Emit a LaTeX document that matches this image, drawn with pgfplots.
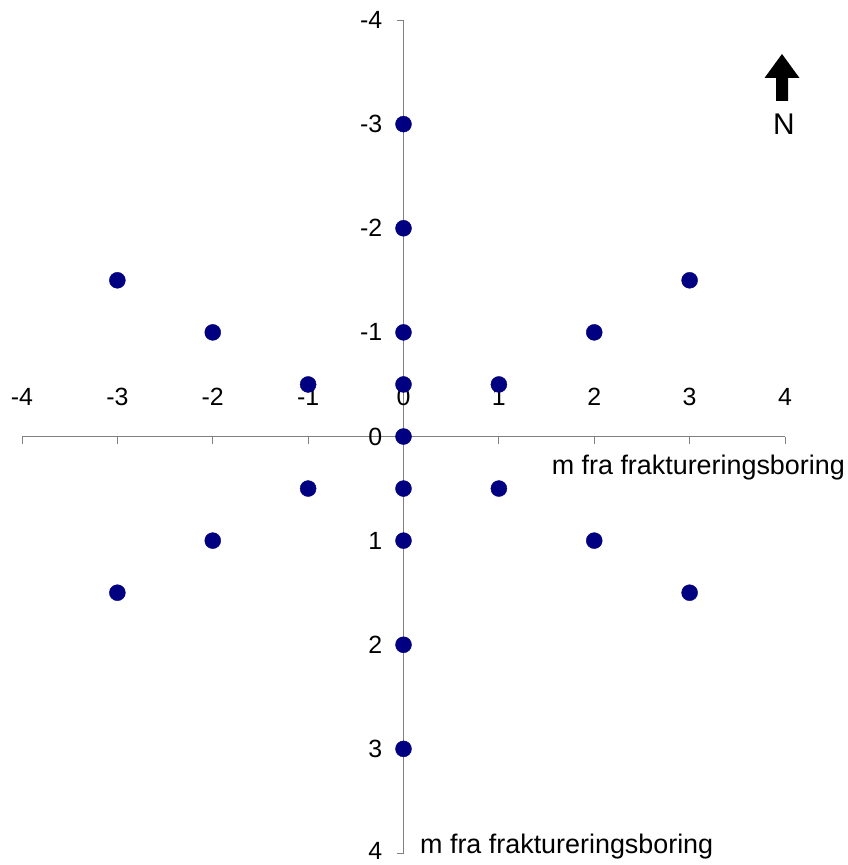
\documentclass[border=0pt]{standalone}
\usepackage{pgfplots}
\pgfplotsset{compat=1.18}
\usepackage{fontspec}
\setmainfont{Liberation Sans}
\definecolor{navy}{RGB}{0,0,128}
\definecolor{axgray}{RGB}{128,128,128}
\pgfplotstableread{
x y
0 -3
0 -2
-3 -1.5
3 -1.5
-2 -1
0 -1
2 -1
-1 -0.5
0 -0.5
1 -0.5
0 0
-1 0.5
0 0.5
1 0.5
-2 1
0 1
2 1
-3 1.5
3 1.5
0 2
0 3
}\pts
\begin{document}
\begin{tikzpicture}
\begin{axis}[
  scale only axis,
  width=763bp, height=833bp,
  xmin=-4, xmax=4, ymin=-4, ymax=4,
  y dir=reverse,
  axis x line=middle, axis y line=middle,
  axis line style={-, draw=axgray, line width=0.9bp},
  every tick/.style={draw=axgray, line width=0.9bp},
  xtick align=inside, ytick align=outside,
  major tick length=7bp,
  hide obscured x ticks=false, hide obscured y ticks=false,
  xtick={-4,-3,-2,-1,0,1,2,3,4},
  ytick={-4,-3,-2,-1,0,1,2,3,4},
  xticklabels={-4,-3,-2,-1,0,1,2,3,4},
  yticklabels={\raisebox{-2bp}{-4},-3,-2,-1,0,1,2,3,\raisebox{5bp}{4}},
  xticklabel style={anchor=base, inner sep=0pt, yshift=31bp, font=\fontsize{25}{28}\selectfont},
  yticklabel style={anchor=east, inner sep=0pt, xshift=-14bp, font=\fontsize{25}{28}\selectfont},
  clip=false,
]
\addplot[only marks, mark=*, mark size=8bp, mark options={fill=navy, draw=navy}] table[x=x, y=y] {\pts};
\coordinate (O) at (axis cs:-4,-4);
\node[anchor=base east, inner sep=0pt, font=\fontsize{27}{30}\selectfont] at ([xshift=60bp, yshift=-38bp]axis cs:4,0) {m fra fraktureringsboring};
\node[anchor=base west, inner sep=0pt, font=\fontsize{27}{30}\selectfont] at ([xshift=16.5bp, yshift=0bp]axis cs:0,4) {m fra fraktureringsboring};
\end{axis}
\begin{scope}[shift={(O)}, x=1bp, y=-1bp]
\fill[black] (760,34) -- (777.5,58) -- (766,58) -- (766,81) -- (754,81) -- (754,58) -- (742.5,58) -- cycle;
\node[font=\fontsize{30}{34}\selectfont, inner sep=0pt] at (762,104) {N};
\end{scope}
\pgfresetboundingbox
\path[use as bounding box] ([xshift=-22bp, yshift=20bp]O) rectangle ([xshift=826bp, yshift=-845bp]O);
\end{tikzpicture}
\end{document}
